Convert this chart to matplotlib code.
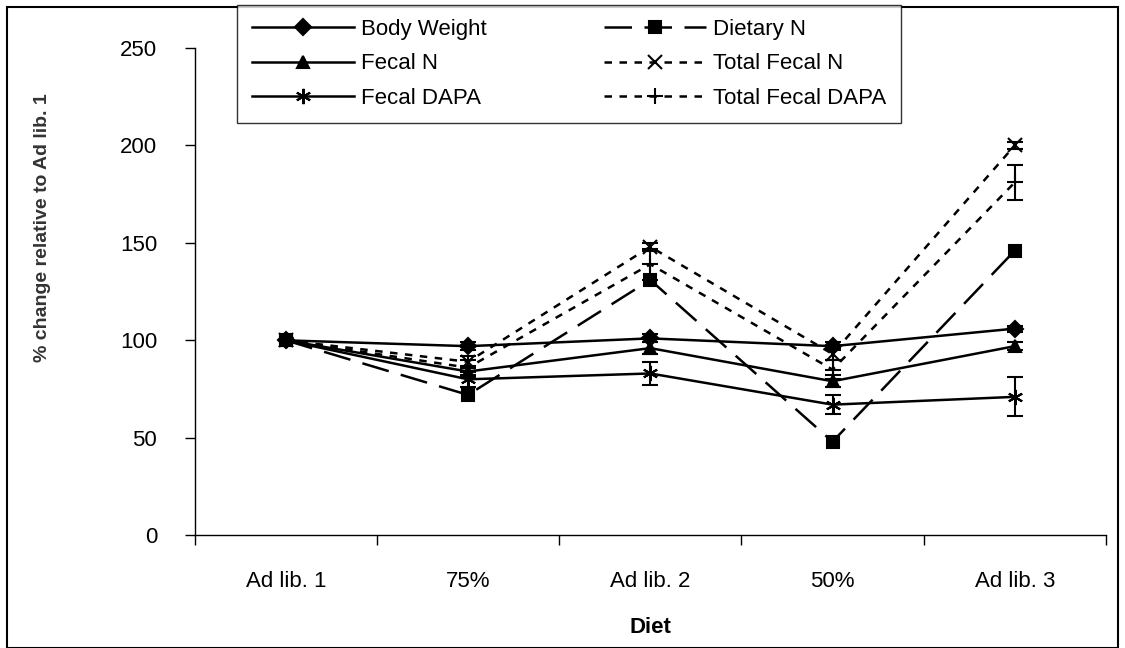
import matplotlib
matplotlib.use("Agg")
import matplotlib.pyplot as plt
from matplotlib.patches import Rectangle

plt.rcParams['font.family'] = ['Liberation Sans', 'DejaVu Sans']

diets = ['Ad lib. 1', '75%', 'Ad lib. 2', '50%', 'Ad lib. 3']

body_weight = [100, 97, 101, 97, 106]
body_weight_err = [0, 2, 2, 2, 1.5]
dietary_n = [100, 72, 131, 48, 146]
fecal_n = [100, 84, 96, 79, 97]
fecal_n_err = [0, 3, 3, 3, 2]
total_fecal_n = [100, 89, 148, 93, 200]
total_fecal_n_err = [0, 3, 2, 3, 2]
fecal_dapa = [100, 80, 83, 67, 71]
fecal_dapa_err = [0, 4, 6, 5, 10]
total_fecal_dapa = [100, 86, 139, 85, 181]
total_fecal_dapa_err = [0, 4, 8, 5, 9]

fig = plt.figure(figsize=(11.25, 6.48), dpi=100)
ax = fig.add_axes([0.173, 0.174, 0.81, 0.752])

x = list(range(len(diets)))
lw = 1.8
cap = 6

# name, values, error, marker, linestyle, marker size, zorder
series = [
    ('Body Weight', body_weight, body_weight_err, 'D', '-', 8, 3),
    ('Dietary N', dietary_n, None, 's', (0, (11, 5)), 9, 4),
    ('Fecal N', fecal_n, fecal_n_err, '^', '-', 9, 3),
    ('Total Fecal N', total_fecal_n, total_fecal_n_err, 'x', (0, (3, 3)), 10, 3),
    ('Fecal DAPA', fecal_dapa, fecal_dapa_err, (6, 2, 0), '-', 11, 3),
    ('Total Fecal DAPA', total_fecal_dapa, total_fecal_dapa_err, '+', (0, (3, 3)), 12, 3),
]

handles = {}
for name, vals, err, mk, ls, ms, z in series:
    if err is not None:
        ax.errorbar(x, vals, yerr=err, fmt='none', ecolor='black',
                    elinewidth=1.5, capsize=cap, capthick=1.5, zorder=2)
    h, = ax.plot(x, vals, color='black', linestyle=ls, linewidth=lw,
                 marker=mk, markersize=ms, markerfacecolor='black',
                 markeredgecolor='black', markeredgewidth=1.5,
                 label=name, zorder=z)
    handles[name] = h

ax.set_xlim(-0.5, 4.5)
ax.set_ylim(0, 250)
ax.set_yticks([0, 50, 100, 150, 200, 250])
ax.set_xticks([-0.5, 0.5, 1.5, 2.5, 3.5, 4.5])
ax.set_xticklabels([])
ax.set_xticks(x, minor=True)
ax.set_xticklabels(diets, minor=True)
ax.tick_params(axis='x', which='minor', length=0, pad=26, labelsize=16)
ax.tick_params(axis='x', which='major', length=7, direction='out', width=1)
ax.tick_params(axis='y', length=7, direction='out', width=1, labelsize=16, pad=20)

for s in ['top', 'right']:
    ax.spines[s].set_visible(False)
for s in ['left', 'bottom']:
    ax.spines[s].set_linewidth(1)

ax.set_xlabel('Diet', fontsize=16, fontweight='bold', labelpad=18)
ax.set_ylabel('% change relative to Ad lib. 1', fontsize=14, fontweight='bold',
              color='#333333')
ax.yaxis.set_label_coords(-0.158, 0.632)

order = ['Body Weight', 'Fecal N', 'Fecal DAPA', 'Dietary N', 'Total Fecal N', 'Total Fecal DAPA']
leg = fig.legend([handles[n] for n in order], order, loc='upper left',
                 bbox_to_anchor=(0.211, 0.993), ncol=2, fontsize=16,
                 frameon=True, fancybox=False, edgecolor='black',
                 handlelength=4.6, handletextpad=0.3, columnspacing=5.3,
                 labelspacing=0.6, borderpad=0.65, borderaxespad=0)
leg.get_frame().set_linewidth(1)

fig.patches.append(Rectangle((0.006, 0.0), 0.988, 0.989, transform=fig.transFigure,
                             fill=False, edgecolor='black', linewidth=1.5))

fig.savefig('out.png', dpi=100)
